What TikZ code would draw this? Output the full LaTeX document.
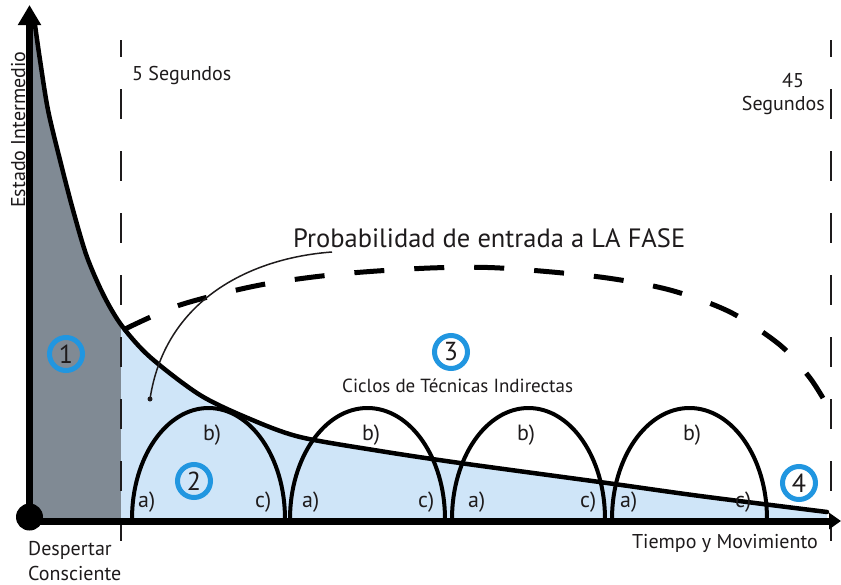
\documentclass[tikz,border=0pt]{standalone}
\usepackage{fontspec}
\setmainfont{PT Sans}
\usetikzlibrary{arrows.meta}
\definecolor{txt}{HTML}{1E1B1C}
\definecolor{greyfill}{HTML}{808A94}
\definecolor{bluefill}{HTML}{CFE5F8}
\definecolor{ringblue}{HTML}{2196E0}
\tikzset{
  txtnode/.style={inner sep=0pt, text=txt, font=\fontsize{20}{24}\selectfont},
  lbl/.style={inner sep=0pt, text=txt, font=\fontsize{22}{26}\selectfont, anchor=base west},
  ring/.style={circle, draw=ringblue, line width=5pt, minimum size=33pt, inner sep=0pt, text=txt, font=\fontsize{26}{30}\selectfont},
  arch/.style={line width=4pt, draw=black},
  vdash/.style={line width=2pt, draw=txt, dash pattern=on 30pt off 32pt, dash phase=13pt},
  axisline/.style={line width=7pt, draw=black},
}
\begin{document}
\begin{tikzpicture}[x=1pt,y=-1pt]
\useasboundingbox (0,0) rectangle (841,584);
\fill[white] (0,0) rectangle (841,584);

% fills under the decay curve
\begin{scope}
\clip (29,25) -- plot[smooth] coordinates {(35,25) (40,60) (48,110) (60,160) (73,210) (87,257) (104,296) (122,326) (150,357) (200,395) (250,419) (300,437) (380,451) (460,463) (607,483) (700,496) (827,512)} -- (827,521) -- (29,521) -- cycle;
\fill[greyfill] (29,0) rectangle (121,521);
\fill[bluefill] (121,0) rectangle (841,521);
\end{scope}

% dashed time marks
\coordinate (l5top) at (121,40);
\coordinate (l5bot) at (121,541);
\coordinate (l45top) at (831,40);
\coordinate (l45bot) at (831,541);
\draw[vdash] (l5top) -- (l5bot);
\draw[vdash] (l45top) -- (l45bot);

% cycles (arches)
\draw[arch] (132,519) arc[start angle=180, end angle=0, x radius=76.5pt, y radius=111pt];
\draw[arch] (290,519) arc[start angle=180, end angle=0, x radius=77.5pt, y radius=111pt];
\draw[arch] (452,519) arc[start angle=180, end angle=0, x radius=76.5pt, y radius=111pt];
\draw[arch] (612,519) arc[start angle=180, end angle=0, x radius=77.5pt, y radius=111pt];

% decay curve
\draw[line width=4.5pt, line cap=round] plot[smooth] coordinates {(35,25) (40,60) (48,110) (60,160) (73,210) (87,257) (104,296) (122,326) (150,357) (200,395) (250,419) (300,437) (380,451) (460,463) (607,483) (700,496) (827,512)};

% probability dashed curve
\draw[line width=5pt, dash pattern=on 30pt off 30pt] plot[smooth] coordinates {(123,330) (180,305) (260,285) (340,274) (430,268) (500,268) (600,277) (670,290) (730,312) (780,345) (810,378) (830,410)};

% axes
\coordinate (orig) at (29.5,521);
\coordinate (ytip) at (29.5,5);
\coordinate (xstart) at (26,521);
\coordinate (xtip) at (841,521);
\draw[axisline, -{Triangle[width=22pt,length=20pt]}] (orig) -- (ytip);
\draw[axisline, -{Triangle[width=16pt,length=12pt]}] (xstart) -- (xtip);
\fill[black] (29.5,517) circle[radius=13.5pt];

% texts
\node[txtnode, anchor=base west] (t5) at (132,80) {5 Segundos};
\node[txtnode, anchor=base west] (t45a) at (782,87) {45};
\node[txtnode, anchor=base east] (t45b) at (825,110) {Segundos};
\node[txtnode, anchor=base west, rotate=90] (yl) at (25,208) {Estado Intermedio};
\node[txtnode, anchor=base west] (d1) at (28,555) {Despertar};
\node[txtnode, anchor=base west] (d2) at (28,580) {Consciente};
\node[txtnode, anchor=base east] (xl) at (818,548) {Tiempo y Movimiento};
\node[inner sep=0pt, text=txt, font=\fontsize{26.5}{32}\selectfont, anchor=base west] (prob) at (293,247) {Probabilidad de entrada a LA FASE};
\node[inner sep=0pt, text=txt, font=\fontsize{19}{23}\selectfont, anchor=base west] (ciclos) at (342,392) {Ciclos de Técnicas Indirectas};

% annotation pointer
\coordinate (ptail) at (332,252);
\coordinate (pdot) at (150,399);
\draw[line width=1.5pt, txt] (ptail) .. controls (250,258) and (165,300) .. (pdot);
\fill[txt] (pdot) circle[radius=2.5pt];

% arch labels
\node[lbl] (a1) at (138,507) {a)};
\node[lbl] (b1) at (203,440) {b)};
\node[lbl] (c1) at (255,507) {c)};
\node[lbl] (a2) at (302,507) {a)};
\node[lbl] (b2) at (362,440) {b)};
\node[lbl] (c2) at (418,507) {c)};
\node[lbl] (a3) at (468,507) {a)};
\node[lbl] (b3) at (517,440) {b)};
\node[lbl] (c3) at (580,507) {c)};
\node[lbl] (a4) at (620,507) {a)};
\node[lbl] (b4) at (683,440) {b)};
\node[lbl] (c4) at (735,507) {c)};

% numbered rings
\node[ring] (n1) at (66,354) {1};
\node[ring] (n2) at (194,481) {2};
\node[ring] (n3) at (451,352) {3};
\node[ring] (n4) at (799,483) {4};
\end{tikzpicture}
\end{document}
